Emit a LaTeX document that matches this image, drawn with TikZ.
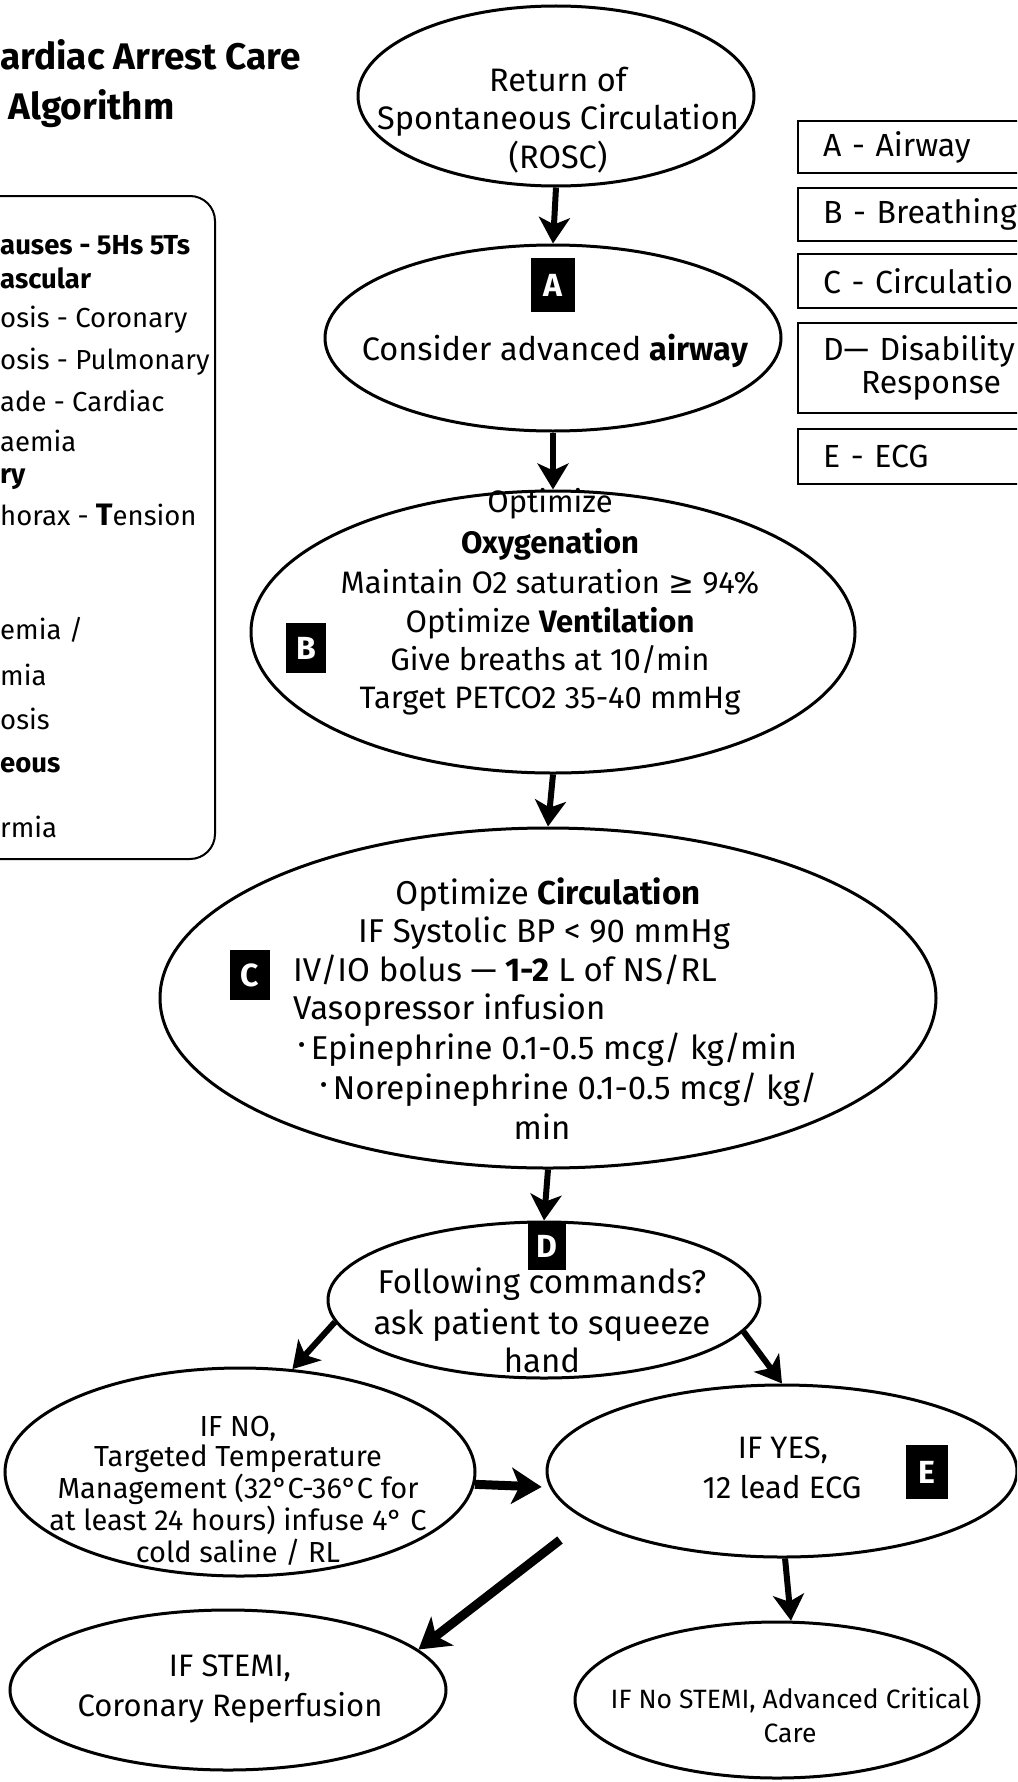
\documentclass[tikz,border=0pt]{standalone}
\usepackage{fontspec}
\setmainfont{Fira Sans}
\newfontfamily\symf{DejaVu Sans}
\usetikzlibrary{arrows.meta,shapes.geometric}
\newcommand\setfs[1]{\fontsize{#1}{#1}\selectfont}
\begin{document}
\begin{tikzpicture}[x=1pt,y=-1pt,
  ell/.style={ellipse, draw, line width=3pt, inner sep=0pt},
  ct/.style={anchor=base, inner sep=0pt},
  cw/.style={anchor=base west, inner sep=0pt},
  cz/.style={anchor=base west, inner sep=0pt, font=\setfs{27.5}},
  czb/.style={anchor=base west, inner sep=0pt, font=\bfseries\setfs{27.5}},
  abox/.style={fill=black, text=white, font=\bfseries\setfs{32}, inner sep=0pt, minimum width=42pt, minimum height=52pt},
  legbox/.style={draw, line width=2pt, anchor=north west, minimum width=250pt, inner xsep=25pt, inner ysep=0pt, text width=200pt, align=left, font=\setfs{32}},
  arr/.style={line width=6pt, -{Stealth[length=26pt,width=31pt,inset=7pt]}},
  bigarr/.style={line width=9pt, -{Stealth[length=30pt,width=36pt,inset=8pt]}}
]
\useasboundingbox (0,0) rectangle (1017,1782);
\fill[white] (0,0) rectangle (1017,1782);
\clip (0,0) rectangle (1017,1782);

% title
\node[anchor=base west, inner sep=0pt, font=\bfseries\setfs{37}] (t1) at (0,70) {ardiac Arrest Care};
\node[anchor=base west, inner sep=0pt, font=\bfseries\setfs{37}] (t2) at (8,120) {Algorithm};

% causes box
\node[draw, line width=2pt, rounded corners=25pt, minimum width=276pt, minimum height=663pt, anchor=north east] (causes) at (216,195) {};
\node[czb] (c1) at (0,254) {auses - 5Hs 5Ts};
\node[czb] (c2) at (0,288) {ascular};
\node[cz] (c3) at (0,327) {osis - Coronary};
\node[cz] (c4) at (0,369) {osis - Pulmonary};
\node[cz] (c5) at (0,411) {ade - Cardiac};
\node[cz] (c6) at (0,451) {aemia};
\node[czb] (c7) at (0,483) {ry};
\node[cz] (c8) at (0,525) {horax - {\bfseries\setfs{31}T}ension};
\node[cz] (c9) at (0,639) {emia /};
\node[cz] (c10) at (0,685) {mia};
\node[cz] (c11) at (0,729) {osis};
\node[czb] (c12) at (0,772) {eous};
\node[cz] (c13) at (0,837) {rmia};

% legend boxes
\node[legbox, minimum height=52pt] (LA) at (797,120) {A - Airway};
\node[legbox, minimum height=53pt] (LB) at (797,187) {B - Breathing};
\node[legbox, minimum height=54pt] (LC) at (797,253) {C - Circulatio};
\node[legbox, minimum height=90pt] (LD) at (797,322) {D— Disability\\[1pt]\hspace*{38pt}Response};
\node[legbox, minimum height=55pt] (LE) at (797,428) {E - ECG};

% ROSC
\node[ell, minimum width=396pt, minimum height=180pt] (ROSC) at (556,96) {};
\node[ct, font=\setfs{32.5}] (r1) at (558,92) {Return of};
\node[ct, font=\setfs{32.5}] (r2) at (558,130) {Spontaneous Circulation};
\node[ct, font=\setfs{32.5}] (r3) at (558,168) {(ROSC)};

% A
\node[ell, minimum width=456pt, minimum height=186pt] (Aell) at (553,338) {};
\node[ct, font=\setfs{32.5}] (a1) at (555,360) {Consider advanced \textbf{airway}};
\node[abox, minimum width=44pt, minimum height=54pt] (boxA) at (553,285) {A};

% B
\node[ell, minimum width=604pt, minimum height=282pt] (Bell) at (553,632) {};
\node[ct, font=\setfs{31}] (b1) at (550,512) {Optimize};
\node[ct, font=\setfs{31}] (b2) at (550,553) {\textbf{Oxygenation}};
\node[ct, font=\setfs{31}] (b3) at (550,593) {Maintain O2 saturation {\symf ≥} 94\%};
\node[ct, font=\setfs{31}] (b4) at (550,632) {Optimize \textbf{Ventilation}};
\node[ct, font=\setfs{31}] (b5) at (550,670) {Give breaths at 10/min};
\node[ct, font=\setfs{31}] (b6) at (550,708) {Target PETCO2 35-40 mmHg};
\node[abox, minimum width=40pt, minimum height=50pt] (boxB) at (306,648) {B};

% C
\node[ell, minimum width=776pt, minimum height=340pt] (Cell) at (548,998) {};
\node[ct, font=\setfs{33}] (k1) at (548,904) {Optimize \textbf{Circulation}};
\node[ct, font=\setfs{33}] (k2) at (544,942) {IF Systolic BP < 90 mmHg};
\node[cw, font=\setfs{33}] (k3) at (293,981) {IV/IO bolus — \textbf{1-2} L of NS/RL};
\node[cw, font=\setfs{33}] (k4) at (293,1019) {Vasopressor infusion};
\node[cw, font=\setfs{33}] (k5) at (298,1059) {{\setfs{22}\raisebox{7pt}{•}}\,Epinephrine 0.1-0.5 mcg/ kg/min};
\node[cw, font=\setfs{33}] (k6) at (320,1099) {{\setfs{22}\raisebox{7pt}{•}}\,Norepinephrine 0.1-0.5 mcg/ kg/};
\node[ct, font=\setfs{33}] (k7) at (542,1139) {min};
\node[abox, minimum width=40pt, minimum height=50pt] (boxC) at (250,975) {C};

% D
\node[ell, minimum width=432pt, minimum height=156pt] (Dell) at (544,1300) {};
\node[ct, font=\setfs{33}] (d1) at (542,1293) {Following commands?};
\node[ct, font=\setfs{33}] (d2) at (542,1334) {ask patient to squeeze};
\node[ct, font=\setfs{33}] (d3) at (542,1372) {hand};
\node[abox, minimum width=38pt, minimum height=48pt] (boxD) at (547,1246) {D};

% NO
\node[ell, minimum width=470pt, minimum height=208pt] (NO) at (240,1472) {};
\node[ct, font=\setfs{29}] (n1) at (238,1436) {IF NO,};
\node[ct, font=\setfs{29}] (n2) at (238,1466) {Targeted Temperature};
\node[ct, font=\setfs{29}] (n3) at (238,1498) {Management (32°C-36°C for};
\node[ct, font=\setfs{29}] (n4) at (238,1530) {at least 24 hours) infuse 4° C};
\node[ct, font=\setfs{29}] (n5) at (238,1562) {cold saline / RL};

% YES
\node[ell, minimum width=470pt, minimum height=172pt] (YES) at (782,1471) {};
\node[ct, font=\setfs{31}] (y1) at (783,1458) {IF YES,};
\node[ct, font=\setfs{31}] (y2) at (782,1498) {12 lead ECG};
\node[abox, minimum width=42pt, minimum height=54pt] (boxE) at (927,1472) {E};

% STEMI
\node[ell, minimum width=436pt, minimum height=160pt] (STEMI) at (228,1690) {};
\node[ct, font=\setfs{31}] (s1) at (230,1676) {IF STEMI,};
\node[ct, font=\setfs{31}] (s2) at (230,1716) {Coronary Reperfusion};

% No STEMI
\node[ell, minimum width=404pt, minimum height=156pt] (NoSTEMI) at (777,1700) {};
\node[ct, font=\setfs{26.5}] (m1) at (790,1708) {IF No STEMI, Advanced Critical};
\node[ct, font=\setfs{26.5}] (m2) at (790,1742) {Care};

% arrows
\draw[arr] (ROSC.south) -- (Aell.north);
\draw[arr] (Aell.south) -- (Bell.north);
\draw[arr] (Bell.south) -- (Cell.north);
\draw[arr] (Cell.south) -- (Dell.north);
\draw[arr] (Dell.186) -- (NO.63);
\draw[arr] (Dell.351) -- (YES.north);
\draw[bigarr, shorten >=8pt] (NO.-3) -- (YES.184);
\coordinate (yesout) at (560,1540);
\draw[bigarr] (yesout) -- (STEMI.12);
\draw[arr] (YES.-88) -- (NoSTEMI.80);
\end{tikzpicture}
\end{document}
